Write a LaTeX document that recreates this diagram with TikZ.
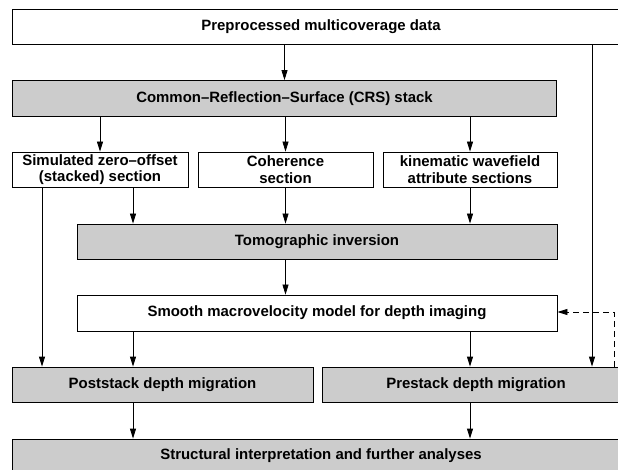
\documentclass[tikz,border=0pt]{standalone}
\usepackage{fontspec}
\setmainfont{Liberation Sans}
\usetikzlibrary{arrows.meta}
\definecolor{boxgray}{RGB}{204,204,204}
\tikzset{
  box/.style={draw=black, line width=0.8bp, inner sep=0pt, align=center,
    font=\fontsize{15}{16.5}\selectfont\bfseries},
  graybox/.style={box, fill=boxgray},
  whitebox/.style={box, fill=white},
  arr/.style={line width=0.8bp, -{Triangle[length=10bp,width=6bp]}},
  plain/.style={line width=0.8bp},
  dasharr/.style={arr, dash pattern=on 6bp off 4bp}
}
\begin{document}
\begin{tikzpicture}[x=1bp,y=-1bp]
\useasboundingbox (0,0) rectangle (618,470);
\clip (0,0) rectangle (618,470);
\fill[white] (0,0) rectangle (618,470);
% boxes
\node[whitebox, minimum width=618bp, minimum height=35bp] (top) at (321,26.5) {Preprocessed multicoverage data};
\node[graybox, minimum width=544bp, minimum height=36bp] (crs) at (284.5,98.5) {Common–Reflection–Surface (CRS) stack};
\node[whitebox, minimum width=176bp, minimum height=35bp] (s1) at (100,169.5) {Simulated zero–offset\\(stacked) section};
\node[whitebox, minimum width=175bp, minimum height=35bp] (s2) at (285.5,169.5) {Coherence\\section};
\node[whitebox, minimum width=174bp, minimum height=35bp] (s3) at (470,169.5) {kinematic wavefield\\attribute sections};
\node[graybox, minimum width=480bp, minimum height=35bp] (tomo) at (317,241.5) {Tomographic inversion};
\node[whitebox, minimum width=480bp, minimum height=36bp] (smooth) at (317,313) {Smooth macrovelocity model for depth imaging};
\node[graybox, minimum width=301bp, minimum height=35bp] (post) at (162.5,384.5) {Poststack depth migration};
\node[graybox, minimum width=308bp, minimum height=35bp] (pre) at (476,384.5) {Prestack depth migration};
\node[graybox, minimum width=618bp, minimum height=34bp] (struct) at (321,456) {Structural interpretation and further analyses};
% helper x positions
\coordinate (xa) at (42,0);
\coordinate (xb) at (133,0);
\coordinate (xc) at (592,0);
\coordinate (xd) at (614,0);
% connectors
\draw[arr] (top.south -| crs.north) -- (crs.north);
\draw[arr] (crs.south -| s1.north) -- (s1.north);
\draw[arr] (crs.south -| s2.north) -- (s2.north);
\draw[arr] (crs.south -| s3.north) -- (s3.north);
\draw[arr] (s1.south -| xb) -- (tomo.north -| xb);
\draw[arr] (s2.south) -- (s2.south |- tomo.north);
\draw[arr] (s3.south) -- (s3.south |- tomo.north);
\draw[arr] (tomo.south -| s2.south) -- (smooth.north -| s2.south);
\draw[arr] (s1.south -| xa) -- (post.north -| xa);
\draw[arr] (smooth.south -| xb) -- (post.north -| xb);
\draw[arr] (smooth.south -| s3.south) -- (pre.north -| s3.south);
\draw[arr] (top.south -| xc) -- (pre.north -| xc);
\draw[dasharr] (pre.north -| xd) |- ([yshift=1bp]smooth.east);
\draw[arr] (post.south -| xb) -- (struct.north -| xb);
\draw[arr] (pre.south -| s3.south) -- (struct.north -| s3.south);
\end{tikzpicture}
\end{document}
